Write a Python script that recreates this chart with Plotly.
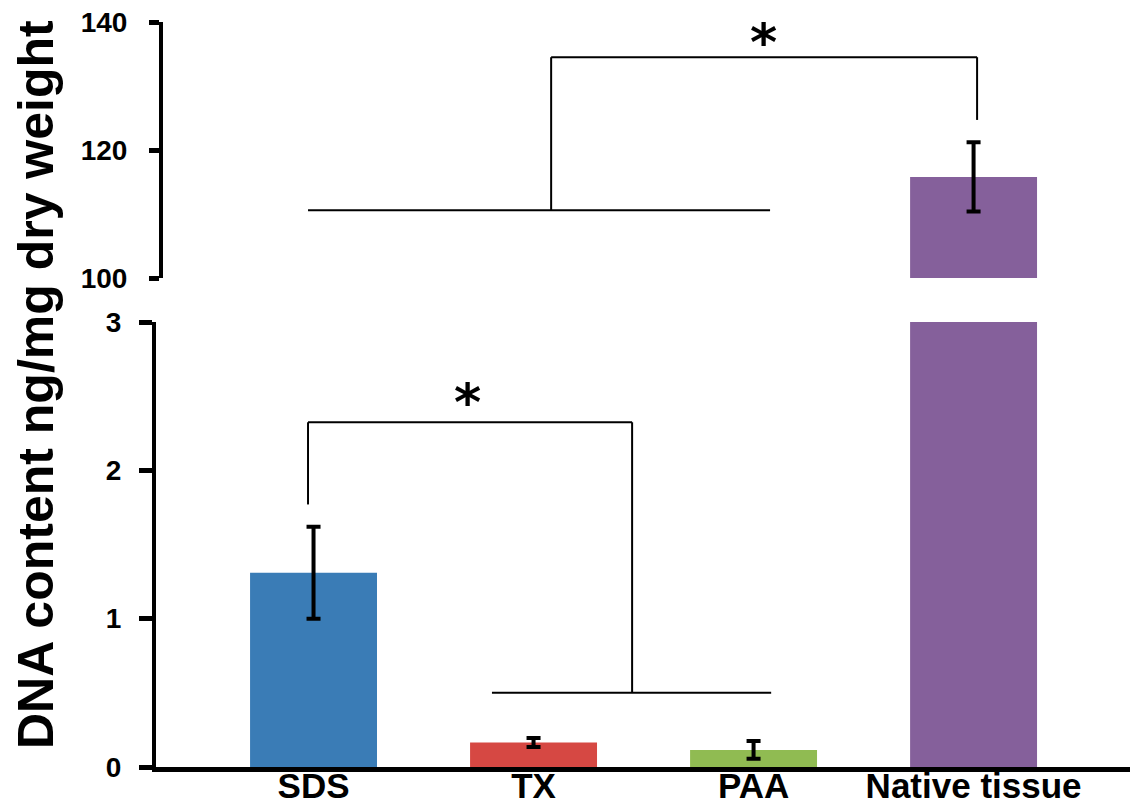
import plotly.graph_objects as go

# ---- data ----
categories = ["SDS", "TX", "PAA", "Native tissue"]
dna_mean = [1.31, 0.165, 0.115, 115.8]
dna_err = [0.31, 0.03, 0.06, 5.4]
bar_colors = ["#3a7cb6", "#d64843", "#90bb52", "#85609b"]

lower_ticks = [0, 1, 2, 3]
upper_ticks = [100, 120, 140]

# significance brackets (category index, value)
low_bracket_top = 2.324
low_bracket_left = (-0.025, 1.77)
low_bracket_right = (1.448, 0.50)
low_group_line = (0.811, 2.080)
low_star = (0.702, 2.51)

up_bracket_top = 134.5
up_group_line = (-0.025, 2.075, 110.6)
up_bracket_left_x = 1.080
up_bracket_right = (3.016, 124.7)
up_star = (2.043, 138.3)

W, H = 1130, 809
L, T, B = 156, 22, 42
plot_h = H - T - B
lower_top_px = 322
upper_bottom_px = 278
low_dom = [0, (H - B - lower_top_px) / plot_h]
up_dom = [(H - B - upper_bottom_px) / plot_h, 1]

fig = go.Figure()
for yax in ["y", "y2"]:
    fig.add_trace(go.Bar(
        x=list(range(len(categories))), y=dna_mean, yaxis=yax,
        marker=dict(color=bar_colors, line=dict(width=0)),
        width=0.577,
        error_y=dict(type="data", array=dna_err, visible=True,
                     color="black", thickness=4, width=7),
        showlegend=False, hoverinfo="skip",
    ))

tickfont_y = dict(family="Liberation Sans, Arial, sans-serif", size=28, color="black", weight="bold")
fig.update_layout(
    width=W, height=H,
    margin=dict(l=L, r=0, t=T, b=B, autoexpand=False),
    plot_bgcolor="white", paper_bgcolor="white",
    xaxis=dict(
        range=[-0.716, 3.711], tickmode="array",
        tickvals=list(range(len(categories))), ticktext=categories,
        showline=True, linecolor="black", linewidth=5,
        ticks="", showgrid=False, zeroline=False, automargin=False,
        tickfont=dict(family="Liberation Sans, Arial, sans-serif", size=35, color="black", weight="bold"),
        anchor="y", domain=[0, 1], ticklabelstandoff=-16,
    ),
    yaxis=dict(
        domain=low_dom, range=[0, 3], tickvals=lower_ticks,
        showline=True, linecolor="black", linewidth=4,
        ticks="outside", ticklen=13, tickwidth=5, tickcolor="black",
        showgrid=False, zeroline=False, tickfont=tickfont_y,
        ticklabelstandoff=12, automargin=False,
    ),
    yaxis2=dict(
        domain=up_dom, range=[100, 140], tickvals=upper_ticks,
        anchor="free", position=5 / (W - L),
        showline=True, linecolor="black", linewidth=4,
        ticks="outside", ticklen=10, tickwidth=5, tickcolor="black",
        showgrid=False, zeroline=False, tickfont=tickfont_y,
        ticklabelstandoff=16, automargin=False,
    ),
)

line = dict(color="black", width=2)
shapes = []
# lower bracket
shapes.append(dict(type="line", xref="x", yref="y", x0=low_bracket_left[0], x1=low_bracket_right[0],
                   y0=low_bracket_top, y1=low_bracket_top, line=line))
shapes.append(dict(type="line", xref="x", yref="y", x0=low_bracket_left[0], x1=low_bracket_left[0],
                   y0=low_bracket_top, y1=low_bracket_left[1], line=line))
shapes.append(dict(type="line", xref="x", yref="y", x0=low_bracket_right[0], x1=low_bracket_right[0],
                   y0=low_bracket_top, y1=low_bracket_right[1], line=line))
shapes.append(dict(type="line", xref="x", yref="y", x0=low_group_line[0], x1=low_group_line[1],
                   y0=low_bracket_right[1], y1=low_bracket_right[1], line=line))
# upper bracket
shapes.append(dict(type="line", xref="x", yref="y2", x0=up_bracket_left_x, x1=up_bracket_right[0],
                   y0=up_bracket_top, y1=up_bracket_top, line=line))
shapes.append(dict(type="line", xref="x", yref="y2", x0=up_bracket_left_x, x1=up_bracket_left_x,
                   y0=up_bracket_top, y1=up_group_line[2], line=line))
shapes.append(dict(type="line", xref="x", yref="y2", x0=up_bracket_right[0], x1=up_bracket_right[0],
                   y0=up_bracket_top, y1=up_bracket_right[1], line=line))
shapes.append(dict(type="line", xref="x", yref="y2", x0=up_group_line[0], x1=up_group_line[1],
                   y0=up_group_line[2], y1=up_group_line[2], line=line))
fig.update_layout(shapes=shapes)

star_font = dict(family="DejaVu Sans, sans-serif", size=52, color="black", weight="bold")
fig.add_annotation(x=low_star[0], y=low_star[1], xref="x", yref="y", text="*",
                   showarrow=False, font=star_font, xanchor="center", yanchor="middle", yshift=-7)
fig.add_annotation(x=up_star[0], y=up_star[1], xref="x", yref="y2", text="*",
                   showarrow=False, font=star_font, xanchor="center", yanchor="middle", yshift=-9)

fig.add_annotation(
    x=(36 - L) / (W - L), y=(H - B - 385) / plot_h, xref="paper", yref="paper",
    text="DNA content ng/mg dry weight", textangle=-90, showarrow=False,
    font=dict(family="Liberation Sans, Arial, sans-serif", size=50, color="black", weight="bold"),
    xanchor="center", yanchor="middle",
)

fig.write_html("out.html")
